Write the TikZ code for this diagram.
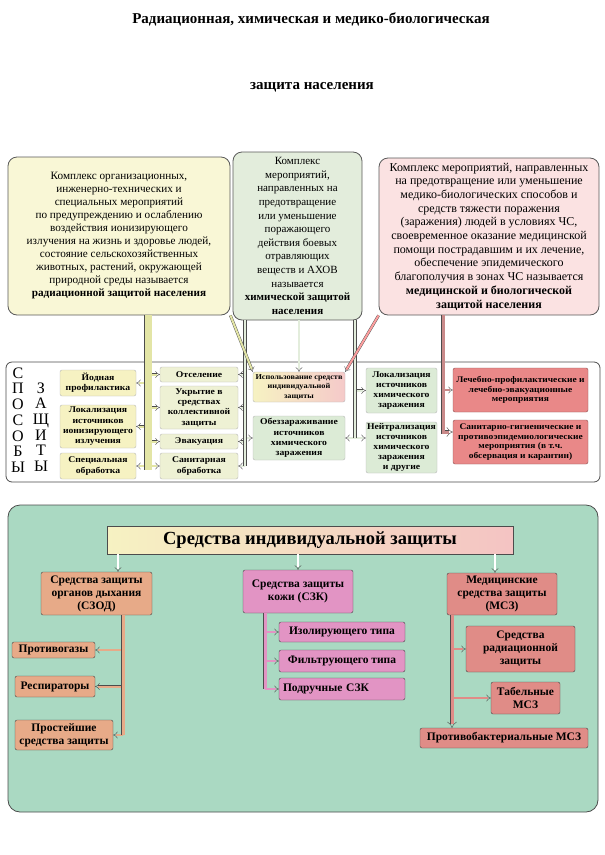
\documentclass[tikz,border=0pt]{standalone}
\usepackage{fontspec}
\setmainfont{Liberation Serif}
\newfontfamily\widefont[FakeStretch=1.1]{Liberation Serif}
\usetikzlibrary{arrows.meta}
\definecolor{radY}{HTML}{F9F7D6}
\definecolor{chemG}{HTML}{E3EDDC}
\definecolor{medP}{HTML}{FBE2E2}
\definecolor{wayY}{HTML}{F6F2C2}
\definecolor{wayL}{HTML}{EEF1D4}
\definecolor{wayG}{HTML}{DCEBD6}
\definecolor{wayR}{HTML}{E98888}
\definecolor{sizG}{HTML}{AAD9C2}
\definecolor{sodT}{HTML}{E7AA88}
\definecolor{szkP}{HTML}{E294C4}
\definecolor{mszR}{HTML}{E08C87}
\definecolor{barY}{HTML}{E3E5A6}
\definecolor{barR}{HTML}{C98A8A}

\begin{document}
\begin{tikzpicture}[x=1pt, y=-1pt,
        callout/.style={draw=gray!70!black, thick, rounded corners=9pt, align=center, font=\fontsize{11}{13}\selectfont},
        way/.style={draw=gray!55, rounded corners=2pt, align=center, inner sep=1pt, font=\widefont\bfseries\fontsize{8.8}{10.3}\selectfont},
        waysmall/.style={way, font=\widefont\bfseries\fontsize{7.5}{9.3}\selectfont},
        wayred/.style={way, fill=wayR, draw=wayR!60!black, font=\widefont\bfseries\fontsize{8.6}{9.8}\selectfont},
        siz/.style={draw=gray!55!black, rounded corners=2pt, align=center, inner sep=1pt, font=\bfseries\fontsize{11.5}{13}\selectfont},
        letters/.style={font=\fontsize{16}{15.7}\selectfont, align=center, inner sep=0pt},
        wh/.style 2 args={minimum width=#1, minimum height=#2},
        link/.style={draw=gray!60!black, double=#1, double distance=2pt, -Implies},
        link/.default=white,
        busline/.style={draw=gray!60!black, double=#1, double distance=3pt}
    ]
        \useasboundingbox (0,0) rectangle (605,855);
        \node[font=\bfseries\fontsize{15}{18}\selectfont] (head1) at (311,19) {Радиационная, химическая и медико-биологическая};
        \node[font=\bfseries\fontsize{15}{18}\selectfont] (head2) at (312,87) {защита населения};

        \node[callout, fill=radY, wh={222}{158}, font=\fontsize{11.2}{13}\selectfont] (radcall) at (119,236) {Комплекс организационных,\\инженерно-технических и\\специальных мероприятий\\по предупреждению и ослаблению\\воздействия ионизирующего\\излучения на жизнь и здоровье людей,\\состояние сельскохозяйственных\\животных, растений, окружающей\\природной среды называется\\\textbf{радиационной защитой населения}};
        \node[callout, fill=chemG, wh={129}{168}, font=\fontsize{11}{13.6}\selectfont] (chemcall) at (297.5,236) {Комплекс\\мероприятий,\\направленных на\\предотвращение\\или уменьшение\\поражающего\\действия боевых\\отравляющих\\веществ и АХОВ\\называется\\\textbf{химической защитой}\\\textbf{населения}};
        \node[callout, fill=medP, wh={220}{157}, font=\fontsize{12}{13.7}\selectfont] (medcall) at (489,236.5) {Комплекс мероприятий, направленных\\на предотвращение или уменьшение\\медико-биологических способов и\\средств тяжести поражения\\(заражения) людей в условиях ЧС,\\своевременное оказание медицинской\\помощи пострадавшим и их лечение,\\обеспечение эпидемического\\благополучия в зонах ЧС называется\\\textbf{медицинской и биологической}\\\textbf{защитой населения}};

        \node[draw=gray!60!black, thick, fill=white, rounded corners=6pt, wh={594}{120}] (ways) at (303,422) {};
        \node[letters] (sposoby) at (18,420) {С\\П\\О\\С\\О\\Б\\Ы};
        \node[letters] (zashchity) at (41,427) {З\\А\\Щ\\И\\Т\\Ы};

        \node[way, fill=wayY, wh={76}{26}] (iodine) at (98,383) {Йодная\\профилактика};
        \node[way, fill=wayY, wh={76}{43}] (locrad) at (98,426.5) {Локализация\\источников\\ионизирующего\\излучения};
        \node[way, fill=wayY, wh={76}{26}] (specobr) at (98,466) {Специальная\\обработка};
        \node[way, fill=wayL, wh={78}{15}] (otsel) at (199,374.5) {Отселение};
        \node[way, fill=wayL, wh={78}{43}] (ukryt) at (199,407.5) {Укрытие в\\средствах\\коллективной\\защиты};
        \node[way, fill=wayL, wh={78}{15}] (evak) at (199,441.5) {Эвакуация};
        \node[way, fill=wayL, wh={78}{26}] (sanobr) at (199,466) {Санитарная\\обработка};
        \node[waysmall, left color=wayY, right color=wayR!45, wh={92}{30}] (isp) at (299,387) {Использование средств\\индивидуальной\\защиты};
        \node[way, fill=wayG, wh={92}{44}] (obezz) at (299,438) {Обеззараживание\\источников\\химического\\заражения};
        \node[way, fill=wayG, wh={71}{45}] (lochim) at (401.5,390.5) {Локализация\\источников\\химического\\заражения};
        \node[way, fill=wayG, wh={71}{51}, font=\widefont\bfseries\fontsize{8.8}{9.8}\selectfont] (neutr) at (401.5,447.5) {Нейтрализация\\источников\\химического\\заражения\\и другие};
        \node[wayred, wh={135}{44}] (lech) at (520.5,390) {Лечебно-профилактические и\\лечебно-эвакуационные\\мероприятия};
        \node[wayred, wh={135}{44}] (sangig) at (520.5,442) {Санитарно-гигиенические и\\противоэпидемиологические\\мероприятия (в т.ч.\\обсервация и карантин)};

        \coordinate (radbus) at (148,470);
        \coordinate (chembusA) at (245,466);
        \coordinate (chembusB) at (355,438);
        \coordinate (medbus) at (443,432);
        \draw[link=barY] (radbus |- iodine) -- (iodine);
        \draw[link=barY] (radbus |- locrad) -- (locrad);
        \draw[link=barY] (radbus |- specobr) -- (specobr);
        \draw[link=barY] (radbus |- otsel) -- (otsel);
        \draw[link=barY] (radbus |- ukryt) -- (ukryt);
        \draw[link=barY] (radbus |- evak) -- (evak);
        \draw[link=barY] (radbus |- sanobr) -- (sanobr);
        \draw[busline=barY, double distance=7pt] (radcall.south -| radbus) -- (radbus);
        \draw[link=chemG] (chembusA |- otsel) -- (otsel);
        \draw[link=chemG] (chembusA |- ukryt) -- (ukryt);
        \draw[link=chemG] (chembusA |- evak) -- (evak);
        \draw[link=chemG] (chembusA |- sanobr) -- (sanobr);
        \draw[link=chemG] (chembusA |- obezz) -- (obezz);
        \draw[busline=chemG, double distance=2.5pt] (chemcall.south -| chembusA) -- (chembusA);
        \draw[link=chemG] (chemcall.south -| isp) -- (isp);
        \draw[link=chemG] (chembusB |- lochim) -- (lochim);
        \draw[link=chemG] (chembusB) -- (obezz);
        \draw[link=chemG] (chembusB) -- (chembusB -| neutr.west);
        \draw[busline=chemG, double distance=2.5pt] (chemcall.south -| chembusB) -- (chembusB);
        \draw[link=barY] (radcall.south east) -- (isp.north west);
        \draw[link=medP!70!red] (medcall.south west) -- (isp.north east);
        \draw[link=barR] (medbus |- lech) -- (lech);
        \draw[busline=barR, -Implies] (medcall.south -| medbus) -- (medbus) -- (medbus -| sangig.west);

        \node[draw=gray!60!black, thick, fill=sizG, rounded corners=12pt, wh={590}{307}] (sizarea) at (303,658.5) {};
        \node[draw=gray!60!black, left color=wayY, right color=wayR!50, font=\bfseries\fontsize{18.5}{21}\selectfont, wh={406}{28}, inner sep=1pt] (sizd) at (310,540) {Средства индивидуальной защиты};
        \node[siz, fill=sodT, wh={111}{43}] (sizod) at (96.5,593.5) {Средства защиты\\органов дыхания\\(СЗОД)};
        \node[siz, fill=sodT, wh={83}{16}] (protivog) at (53.5,650) {Противогазы};
        \node[siz, fill=sodT, wh={80}{21}] (resp) at (55,686.5) {Респираторы};
        \node[siz, fill=sodT, wh={98}{30}] (prost) at (64,735) {Простейшие\\средства защиты};
        \node[siz, fill=szkP, wh={110}{43}] (sizk) at (298,591.5) {Средства защиты\\кожи (СЗК)};
        \node[siz, fill=szkP, wh={126}{20}] (izol) at (342,632) {Изолирующего типа};
        \node[siz, fill=szkP, wh={126}{22}] (filtr) at (342,661) {Фильтрующего типа};
        \node[siz, fill=szkP, wh={126}{22}, text width=118, align=left] (podr) at (342,689) {Подручные СЗК};
        \node[siz, fill=mszR, wh={110}{42}] (msz) at (502,594) {Медицинские\\средства защиты\\(МСЗ)};
        \node[siz, fill=mszR, wh={109}{46}] (radz) at (520.5,649) {Средства\\радиационной\\защиты};
        \node[siz, fill=mszR, wh={69}{32}] (tab) at (525.5,698) {Табельные\\МСЗ};
        \node[siz, fill=mszR, wh={168}{20}] (protbak) at (504,738) {Противобактериальные МСЗ};

        \coordinate (sizodbus) at (123,735);
        \coordinate (sizkbus) at (265,689);
        \coordinate (mszbus) at (452,728);
        \draw[link] (sizd.south -| 118,0) -- (sizod.north -| 118,0);
        \draw[link] (sizd.south -| sizk) -- (sizk);
        \draw[link] (sizd.south -| 495,0) -- (msz.north -| 495,0);
        \draw[link=sodT] (sizodbus |- protivog) -- (protivog);
        \draw[link=sodT] (sizodbus |- resp) -- (resp);
        \draw[link=sodT] (sizodbus) -- (prost);
        \draw[busline=sodT] (sizod.south -| sizodbus) -- (sizodbus);
        \draw[link=szkP] (sizkbus |- izol) -- (izol);
        \draw[link=szkP] (sizkbus |- filtr) -- (filtr);
        \draw[link=szkP] (sizkbus) -- (podr);
        \draw[busline=szkP] (sizk.south -| sizkbus) -- (sizkbus);
        \draw[link=mszR] (mszbus |- radz) -- (radz);
        \draw[link=mszR] (mszbus |- tab) -- (tab);
        \draw[busline=mszR, -Implies] (msz.south -| mszbus) -- (mszbus);
    \end{tikzpicture}
\end{document}
